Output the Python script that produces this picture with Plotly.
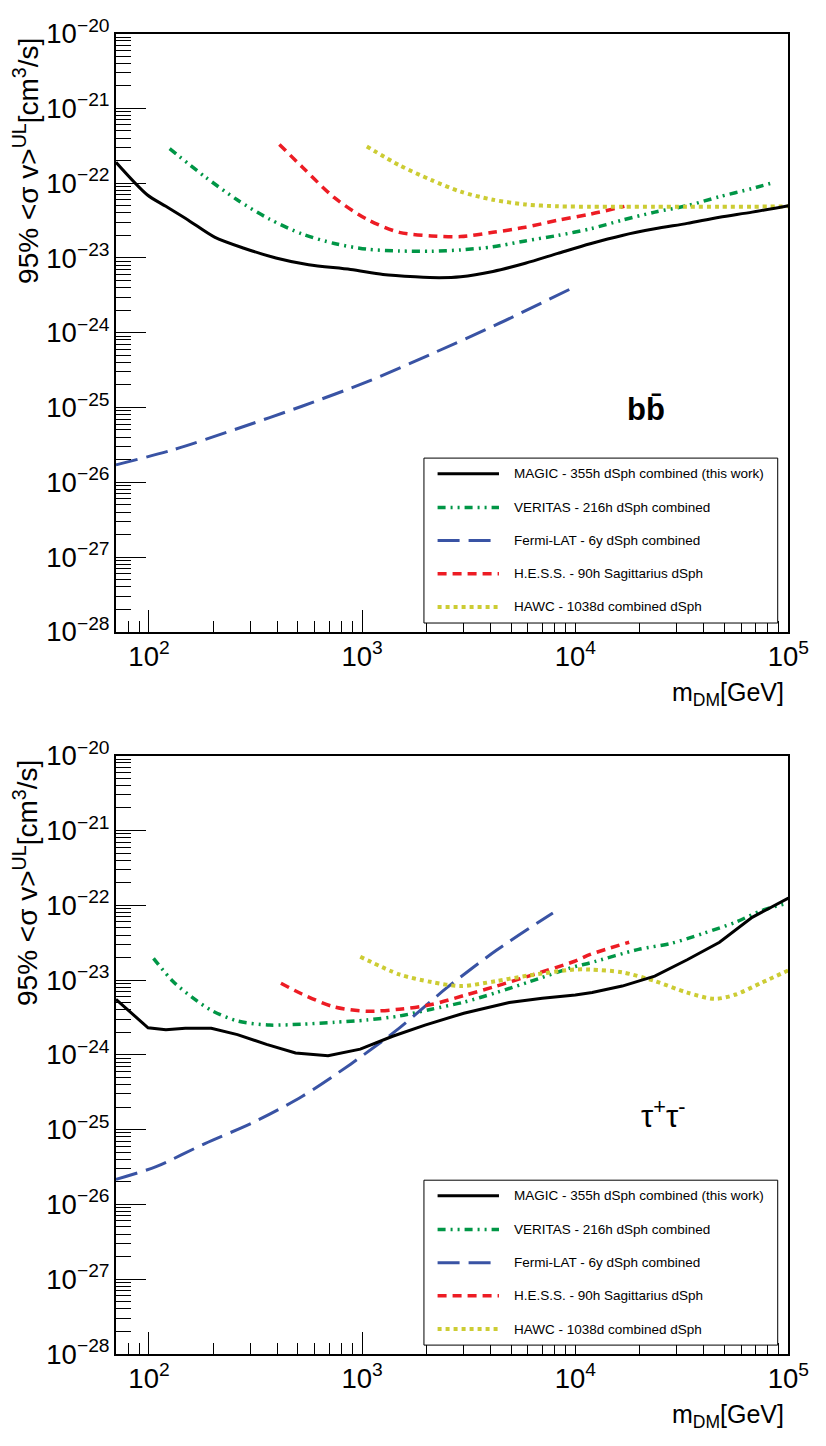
import numpy as np
import plotly.graph_objects as go

W, H = 826, 1446

# ---------------- b bbar channel ----------------
magic_bb_m = [70, 98, 120, 153, 203, 279, 394, 561, 883, 1253, 1778, 2300, 2900,
              4110, 5830, 8280, 11750, 16600, 23600, 33500, 47500, 67600, 100000]
magic_bb_sv = [1.9e-22, 7.0e-23, 4.9e-23, 3.2e-23, 1.9e-23, 1.35e-23, 1.0e-23, 8.1e-24,
               7.0e-24, 6.0e-24, 5.6e-24, 5.45e-24, 5.6e-24, 6.6e-24, 8.5e-24, 1.15e-23,
               1.55e-23, 2.0e-23, 2.45e-23, 2.9e-23, 3.5e-23, 4.1e-23, 5.0e-23]

veritas_bb_m = [125, 183, 259, 368, 522, 741, 1052, 1493, 2115, 2900, 4110, 5830, 8280,
                11750, 16600, 23600, 33500, 47500, 67600, 86000]
veritas_bb_sv = [2.9e-22, 1.22e-22, 6.0e-23, 3.3e-23, 2.1e-23, 1.56e-23, 1.31e-23, 1.24e-23,
                 1.23e-23, 1.28e-23, 1.41e-23, 1.69e-23, 2.0e-23, 2.45e-23, 3.2e-23, 4.1e-23,
                 5.0e-23, 6.6e-23, 8.5e-23, 1.03e-22]

fermi_bb_m = [70, 129, 259, 522, 1052, 2115, 4265, 9400]
fermi_bb_sv = [1.71e-26, 2.7e-26, 5.2e-26, 1.04e-25, 2.2e-25, 5.2e-25, 1.28e-24, 3.8e-24]

hess_bb_m = [409, 522, 741, 1052, 1493, 2115, 2900, 4110, 5830, 8280, 11750, 17000]
hess_bb_sv = [3.3e-22, 1.66e-22, 6.4e-23, 3.3e-23, 2.2e-23, 1.97e-23, 1.93e-23, 2.2e-23,
              2.57e-23, 3.2e-23, 3.85e-23, 4.9e-23]

hawc_bb_m = [1052, 1493, 2115, 2900, 4110, 5830, 8280, 11750, 16600, 23600, 33500,
             47500, 67600, 100000]
hawc_bb_sv = [3.1e-22, 1.74e-22, 1.1e-22, 7.7e-23, 6.0e-23, 5.2e-23, 4.9e-23, 4.85e-23,
              4.85e-23, 4.85e-23, 4.85e-23, 4.85e-23, 4.85e-23, 4.9e-23]

# ---------------- tau+ tau- channel ----------------
magic_tt_m = [70, 99, 120, 148, 196, 260, 356, 487, 692, 980, 1390, 1972, 3000, 4900,
              7000, 10000, 12000, 16600, 23600, 33500, 47500, 67600, 100000]
magic_tt_sv = [5.5e-24, 2.3e-24, 2.16e-24, 2.27e-24, 2.27e-24, 1.86e-24, 1.38e-24, 1.06e-24,
               9.7e-25, 1.19e-24, 1.77e-24, 2.5e-24, 3.6e-24, 5.0e-24, 5.7e-24, 6.3e-24,
               6.8e-24, 8.3e-24, 1.13e-23, 1.87e-23, 3.2e-23, 6.9e-23, 1.25e-22]

veritas_tt_m = [105, 129, 159, 196, 260, 368, 522, 741, 1052, 1493, 2115, 3000, 4265,
                6040, 9860, 11750, 19800, 28100, 39800, 56600, 74800, 100000]
veritas_tt_sv = [1.95e-23, 9.7e-24, 5.9e-24, 3.94e-24, 2.83e-24, 2.5e-24, 2.57e-24, 2.72e-24,
                 2.92e-24, 3.3e-24, 4.07e-24, 5.06e-24, 6.8e-24, 9.4e-24, 1.5e-23, 1.7e-23,
                 2.57e-23, 3.09e-23, 4.2e-23, 5.95e-23, 8.5e-23, 1.07e-22]

fermi_tt_m = [70, 108, 183, 309, 522, 883, 1493, 2500, 4265, 7850]
fermi_tt_sv = [2.16e-26, 3.2e-26, 6.5e-26, 1.25e-25, 2.77e-25, 7.5e-25, 2.27e-24, 7.9e-24,
               2.5e-23, 7.9e-23]

hess_tt_m = [416, 522, 741, 1052, 1493, 2115, 3000, 4265, 6040, 9860, 11750, 17900]
hess_tt_sv = [9.05e-24, 6.5e-24, 4.36e-24, 3.83e-24, 4.07e-24, 4.7e-24, 6.2e-24, 8.3e-24,
              1.13e-23, 1.77e-23, 2.2e-23, 3.2e-23]

hawc_tt_m = [980, 1493, 2115, 2900, 4265, 6040, 9860, 11750, 16600, 23600, 33500, 45000,
             56600, 74800, 100000]
hawc_tt_sv = [2.05e-23, 1.19e-23, 9.4e-24, 8.3e-24, 9.7e-24, 1.15e-23, 1.38e-23, 1.38e-23,
              1.27e-23, 9.7e-24, 6.8e-24, 5.6e-24, 6.4e-24, 9.2e-24, 1.35e-23]

legend_names = [
    "MAGIC - 355h dSph combined (this work)",
    "VERITAS - 216h dSph combined",
    "Fermi-LAT - 6y dSph combined",
    "H.E.S.S. - 90h Sagittarius dSph",
    "HAWC - 1038d combined dSph",
]

# line styles per experiment (same order as legend_names)
styles = [
    dict(color="black", width=3, dash="solid"),
    dict(color="rgb(0,150,70)", width=3.5, dash="8px,5px,2px,5px,2px,5px"),
    dict(color="rgb(57,83,164)", width=3, dash="22px,9px"),
    dict(color="rgb(237,28,36)", width=3.5, dash="9px,6px"),
    dict(color="rgb(204,204,51)", width=4, dash="4px,4px"),
]

panels = [
    dict(xa="x", ya="y",
         data=[(magic_bb_m, magic_bb_sv), (veritas_bb_m, veritas_bb_sv),
               (fermi_bb_m, fermi_bb_sv), (hess_bb_m, hess_bb_sv),
               (hawc_bb_m, hawc_bb_sv)],
         smooth=[True, True, True, True, True]),
    dict(xa="x2", ya="y2",
         data=[(magic_tt_m, magic_tt_sv), (veritas_tt_m, veritas_tt_sv),
               (fermi_tt_m, fermi_tt_sv), (hess_tt_m, hess_tt_sv),
               (hawc_tt_m, hawc_tt_sv)],
         smooth=[False, True, True, True, True]),
]

fig = go.Figure()
draw_order = [1, 2, 3, 4, 0]
for p in panels:
    for i in draw_order:
        m, sv = p["data"][i]
        st = styles[i]
        fig.add_trace(go.Scatter(
            x=m, y=sv, mode="lines", name=legend_names[i], showlegend=False,
            xaxis=p["xa"], yaxis=p["ya"],
            line=dict(color=st["color"], width=st["width"], dash=st["dash"],
                      shape="spline" if p["smooth"][i] else "linear", smoothing=0.8),
            hoverinfo="x+y+name",
        ))

FONT = "Liberation Sans, Arial, Helvetica, sans-serif"

x_left, x_right = 119, 809
top_y0, top_y1 = 15, 628
bot_y0, bot_y1 = 755, 1368


def px(x):
    return x / W


def py(y):
    return 1 - y / H


xcommon = dict(
    type="log", range=[np.log10(70), 5], dtick=1, exponentformat="power",
    showexponent="all", showline=True, mirror=True, linecolor="black", linewidth=2,
    ticks="inside", ticklen=22, tickwidth=1, tickcolor="black",
    showgrid=False, zeroline=False, ticklabeloverflow="allow",
    minor=dict(dtick="D1", ticks="inside", ticklen=11, tickwidth=1,
               tickcolor="black", showgrid=False),
    tickfont=dict(family=FONT, size=22, color="black"),
    domain=[px(x_left), px(x_right)],
)
ycommon = dict(
    type="log", range=[-28, -20], dtick=1, exponentformat="power",
    showexponent="all", showline=True, mirror=True, linecolor="black", linewidth=2,
    ticks="inside", ticklen=30, tickwidth=1, tickcolor="black",
    showgrid=False, zeroline=False, ticklabeloverflow="allow",
    minor=dict(dtick="D1", ticks="inside", ticklen=15, tickwidth=1,
               tickcolor="black", showgrid=False),
    tickfont=dict(family=FONT, size=22, color="black"),
)

fig.update_layout(
    width=W, height=H,
    margin=dict(l=0, r=0, t=0, b=0),
    paper_bgcolor="white", plot_bgcolor="white",
    showlegend=False,
    xaxis=dict(xcommon, anchor="y"),
    yaxis=dict(ycommon, anchor="x", domain=[py(top_y1), py(top_y0)]),
    xaxis2=dict(xcommon, anchor="y2"),
    yaxis2=dict(ycommon, anchor="x2", domain=[py(bot_y1), py(bot_y0)]),
)

annotations = []
shapes = []
for (y0, y1, chan, chan_xy, chan_bold) in [
    (top_y0, top_y1, "bb\u0304", (663, 400), True),
    (bot_y0, bot_y1, "\u03c4<sup>+</sup>\u03c4<sup>-</sup>", (680, 1122), False),
]:
    # y axis title, aligned to the top of the frame
    annotations.append(dict(
        xref="paper", yref="paper", x=px(26), y=py(y0 + 2),
        xanchor="center", yanchor="top", textangle=-90, showarrow=False,
        text="95% &lt;\u03c3 v&gt;<sup>UL</sup>[cm<sup>3</sup>/s]",
        font=dict(family=FONT, size=28, color="black"),
    ))
    # x axis title, aligned to the right of the frame
    annotations.append(dict(
        xref="paper", yref="paper", x=px(x_right - 2), y=py(y1 + 64),
        xanchor="right", yanchor="middle", showarrow=False,
        text="m<sub>DM</sub>[GeV]",
        font=dict(family=FONT, size=25, color="black"),
    ))
    # channel label
    annotations.append(dict(
        xref="paper", yref="paper", x=px(chan_xy[0]), y=py(chan_xy[1]),
        xanchor="center", yanchor="middle", showarrow=False,
        text=f"<b>{chan}</b>" if chan_bold else chan,
        font=dict(family=FONT, size=31, color="black"),
    ))

    # legend box
    off = y0 - top_y0
    shapes.append(dict(type="rect", xref="paper", yref="paper",
                       x0=px(435), x1=px(798), y0=py(450 + off), y1=py(619 + off),
                       line=dict(color="black", width=1), fillcolor="white", layer="above"))
    rows = [466, 500.5, 534.5, 568.5, 602.5]
    for i, name in enumerate(legend_names):
        yy = rows[i] + off
        st = styles[i]
        shapes.append(dict(type="line", xref="paper", yref="paper",
                           x0=px(449), x1=px(512), y0=py(yy), y1=py(yy),
                           line=dict(color=st["color"], width=st["width"], dash=st["dash"]),
                           layer="above"))
        annotations.append(dict(
            xref="paper", yref="paper", x=px(525), y=py(yy),
            xanchor="left", yanchor="middle", showarrow=False, text=name,
            font=dict(family=FONT, size=13.5, color="black"),
        ))

fig.update_layout(annotations=annotations, shapes=shapes)

fig.write_html("out.html")
